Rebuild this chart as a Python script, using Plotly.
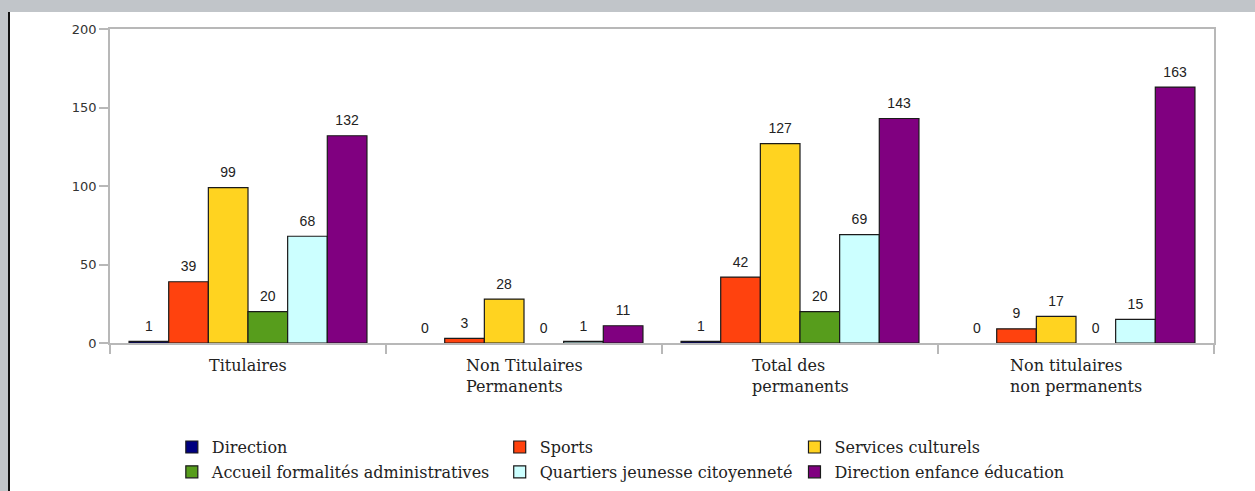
import plotly.graph_objects as go

categories = ["Titulaires", "Non Titulaires<br>Permanents", "Total des<br>permanents", "Non titulaires<br>non permanents"]
series_names = ["Direction", "Sports", "Services culturels",
                "Accueil formalités administratives", "Quartiers jeunesse citoyenneté",
                "Direction enfance éducation"]
direction = [1, 0, 1, 0]
sports = [39, 3, 42, 9]
services_culturels = [99, 28, 127, 17]
accueil = [20, 0, 20, 0]
quartiers = [68, 1, 69, 15]
enfance = [132, 11, 143, 163]
series_values = [direction, sports, services_culturels, accueil, quartiers, enfance]
colors = ["#000080", "#FF420E", "#FFD320", "#579D1C", "#CCFFFF", "#800080"]
legend_ids = ["legend", "legend2", "legend3", "legend", "legend2", "legend3"]
y_ticks = [0, 50, 100, 150, 200]

fig = go.Figure()
for name, vals, col, lg in zip(series_names, series_values, colors, legend_ids):
    fig.add_trace(go.Bar(
        x=categories, y=vals, name=name, legend=lg, legendgroup=name,
        marker=dict(color=col, line=dict(color="#1a1a1a",
                                         width=[1.2 if v > 0 else 0 for v in vals])),
        text=[f"<span style='font-size:14px'>{v}</span><br>&nbsp;" for v in vals],
        textposition="outside",
        textfont=dict(family="Liberation Sans, Arial", size=5, color="#222222"),
        cliponaxis=False,
    ))

axis_col = "#b8b8b8"
fig.update_layout(
    width=1255, height=491,
    margin=dict(l=110, r=41, t=29, b=148),
    paper_bgcolor="white", plot_bgcolor="white",
    barmode="group", bargap=0.138, bargroupgap=0,
    xaxis=dict(type="category", showticklabels=False, ticks="outside", tickson="boundaries",
               ticklen=9, tickcolor=axis_col, tickwidth=1.5,
               showline=True, linecolor=axis_col, linewidth=1.5, mirror=True,
               showgrid=False, zeroline=False),
    yaxis=dict(range=[0, 200], tickvals=y_ticks, ticks="outside", ticklen=9,
               tickcolor=axis_col, tickwidth=1.5, showline=True, linecolor=axis_col,
               linewidth=1.5, mirror=True, showgrid=False, zeroline=False,
               tickfont=dict(family="DejaVu Sans", size=13, color="#333333")),
    showlegend=True,
)

leg_common = dict(orientation="v", xanchor="left", yanchor="top",
                  yref="container", y=0.124,
                  bgcolor="rgba(0,0,0,0)", borderwidth=0, traceorder="grouped",
                  tracegroupgap=1,
                  font=dict(family="DejaVu Serif", size=16, color="#222222"))
fig.update_layout(
    legend=dict(x=0.056, **leg_common),
    legend2=dict(x=0.353, **leg_common),
    legend3=dict(x=0.620, **leg_common),
)

for cat in categories:
    fig.add_annotation(x=cat, xref="x", y=0, yref="paper", yanchor="top", yshift=-11,
                       text=cat, showarrow=False, align="left", xanchor="center",
                       font=dict(family="DejaVu Serif", size=16, color="#222222"))

# page frame decoration (gray strips)
fig.add_shape(type="rect", xref="paper", yref="paper", x0=-0.2, x1=1.2,
              y0=1 + 17 / 314, y1=1.2, fillcolor="#c1c5c9", line=dict(width=0), layer="below")
fig.add_shape(type="rect", xref="paper", yref="paper", x0=-110 / 1104, x1=-102 / 1104,
              y0=-0.6, y1=1.2, fillcolor="#c1c5c9", line=dict(width=0), layer="below")
fig.add_shape(type="rect", xref="paper", yref="paper", x0=-102 / 1104, x1=-100 / 1104,
              y0=-0.6, y1=1 + 17 / 314, fillcolor="#111111", line=dict(width=0), layer="below")

fig.write_html("out.html", config={"displayModeBar": False},
               post_script="document.body.style.margin='0';")
